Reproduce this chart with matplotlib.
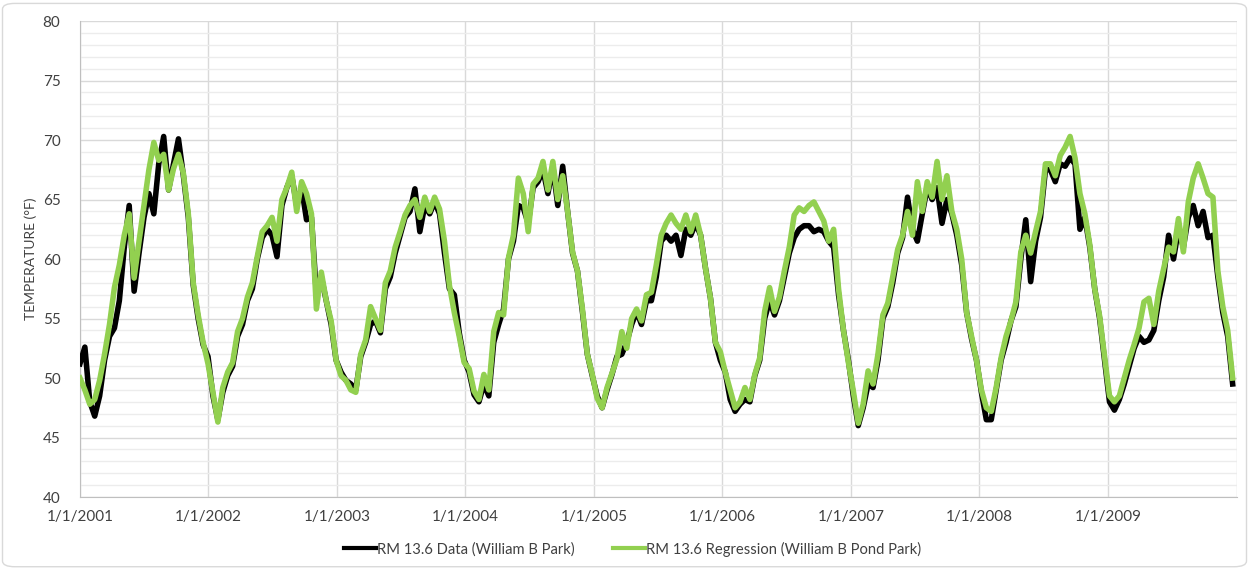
import matplotlib
matplotlib.use("Agg")
import matplotlib.pyplot as plt
from matplotlib.patches import FancyBboxPatch
from matplotlib.ticker import MultipleLocator
import pandas as pd

# --- Data (one value every 14 days from 1/1/2001) ---
START_DATE = "2001-01-01"
STEP = "14D"

data_temp = [
    # 2001
    51.2, 52.6, 48.0, 46.8, 48.5, 51.5, 53.5, 54.2, 56.5, 61.0, 64.5, 57.3, 60.5, 63.5,
    65.5, 63.8, 68.0, 70.3, 65.8, 68.0, 70.1, 67.0, 63.5, 57.8, 55.0, 52.8, 51.8,
    # 2002
    48.5, 46.5, 48.8, 50.2, 51.0, 53.5, 54.5, 56.5, 57.5, 60.0, 61.8, 62.5, 62.0,
    60.2, 64.5, 66.0, 67.0, 64.5, 66.0, 63.3, 63.5, 57.0, 58.5, 56.5, 54.5, 51.5,
    # 2003
    50.5, 49.8, 49.5, 49.0, 51.8, 53.0, 54.5, 54.8, 53.8, 57.5, 58.5, 60.5, 62.0,
    63.5, 64.0, 65.9, 62.3, 64.5, 63.8, 64.8, 63.8, 60.5, 57.5, 57.0, 53.8, 51.5,
    # 2004
    50.5, 48.6, 48.0, 49.5, 48.5, 53.0, 54.5, 55.8, 60.0, 61.5, 64.5, 64.3, 63.0,
    66.0, 66.5, 67.5, 65.5, 67.8, 64.5, 67.8, 64.0, 60.5, 59.0, 55.6, 52.0, 50.2,
    # 2005
    48.5, 47.5, 49.0, 50.3, 51.8, 52.0, 53.0, 54.5, 55.6, 54.5, 56.5, 56.5, 58.5,
    61.5, 62.0, 61.5, 62.0, 60.3, 62.5, 62.0, 63.0, 62.0, 59.2, 56.7, 53.0, 51.5,
    # 2006
    50.5, 48.2, 47.2, 47.8, 48.2, 48.0, 50.2, 51.5, 55.0, 56.5, 55.3, 56.5, 58.5,
    60.5, 61.8, 62.5, 62.8, 62.8, 62.3, 62.5, 62.3, 61.5, 61.0, 57.0, 54.0, 51.5,
    # 2007
    48.5, 46.0, 47.5, 49.5, 49.2, 51.5, 55.0, 56.0, 58.0, 60.5, 61.8, 65.2, 62.5,
    61.5, 63.8, 66.0, 65.0, 66.0, 63.0, 65.0, 63.8, 62.0, 59.5, 55.5, 53.3, 51.5,
    # 2008
    48.8, 46.5, 46.5, 49.0, 51.5, 53.0, 54.8, 56.0, 60.0, 63.3, 58.1, 61.5, 63.5,
    67.5, 67.5, 66.5, 68.0, 67.8, 68.5, 68.0, 62.5, 63.5, 61.0, 57.5, 55.0, 51.5,
    # 2009
    48.0, 47.3, 48.2, 49.5, 51.0, 52.5, 53.5, 53.0, 53.2, 54.0, 56.5, 58.5, 62.0,
    60.0, 62.5, 61.0, 63.5, 64.5, 62.8, 64.0, 61.8, 62.0, 58.5, 55.5, 53.5, 49.5,
]

regression_temp = [
    # 2001
    50.0, 49.0, 47.8, 48.2, 49.8, 52.0, 54.5, 57.6, 59.5, 62.0, 63.8, 58.4, 61.5, 64.5,
    67.5, 69.8, 68.3, 68.8, 65.8, 67.6, 68.8, 67.2, 63.8, 58.0, 55.3, 53.0, 51.2,
    # 2002
    48.8, 46.3, 49.2, 50.5, 51.3, 53.9, 55.0, 56.8, 58.0, 60.2, 62.3, 62.8, 63.5,
    61.5, 65.0, 66.0, 67.3, 64.0, 66.5, 65.5, 63.8, 55.8, 58.9, 56.5, 54.8, 51.5,
    # 2003
    50.2, 49.8, 49.0, 48.8, 52.0, 53.2, 56.0, 55.0, 54.0, 58.0, 59.0, 61.0, 62.3,
    63.7, 64.5, 65.0, 63.5, 65.2, 64.0, 65.2, 64.2, 61.5, 57.8, 55.5, 53.5, 51.3,
    # 2004
    50.8, 48.9, 48.2, 50.3, 49.0, 53.9, 55.5, 55.3, 60.1, 62.0, 66.8, 65.5, 62.3,
    66.3, 66.8, 68.2, 65.8, 68.2, 65.0, 67.0, 64.0, 60.6, 59.0, 55.8, 52.0, 50.3,
    # 2005
    48.3, 47.5, 49.2, 50.4, 51.6, 53.9, 52.5, 55.0, 55.8, 54.8, 57.0, 57.2, 59.5,
    62.0, 63.0, 63.7, 63.0, 62.5, 63.7, 62.3, 63.7, 62.0, 59.2, 56.7, 53.0, 52.2,
    # 2006
    50.5, 49.0, 47.5, 48.0, 49.2, 48.2, 50.3, 51.7, 55.6, 57.6, 55.6, 56.8, 59.0,
    61.0, 63.7, 64.3, 64.0, 64.5, 64.8, 64.0, 63.2, 61.5, 62.5, 57.5, 54.0, 51.3,
    # 2007
    48.9, 46.2, 47.8, 50.6, 49.5, 52.0, 55.3, 56.3, 58.5, 60.8, 62.0, 64.0, 62.0,
    66.5, 64.0, 66.5, 65.2, 68.2, 65.0, 67.0, 64.0, 62.5, 60.0, 55.5, 53.5, 51.5,
    # 2008
    49.0, 47.5, 47.2, 49.2, 51.7, 53.5, 54.8, 56.4, 60.6, 62.0, 60.5, 62.3, 64.0,
    68.0, 68.0, 67.0, 68.7, 69.4, 70.3, 68.5, 65.5, 63.8, 61.2, 57.5, 55.2, 51.8,
    # 2009
    48.5, 48.0, 48.5, 50.0, 51.5, 52.8, 54.2, 56.4, 56.7, 54.5, 57.3, 59.2, 61.0,
    60.6, 63.4, 60.6, 64.8, 66.8, 68.0, 66.8, 65.5, 65.2, 59.0, 56.0, 54.0, 50.0,
]

series_labels = ["RM 13.6 Data (William B Park)",
                 "RM 13.6 Regression (William B Pond Park)"]
series_colors = ["#000000", "#92D050"]

year_ticks = pd.date_range("2001-01-01", "2010-01-01", freq="YS")

dates = pd.date_range(START_DATE, periods=len(data_temp), freq=STEP)

# --- Plot ---
plt.rcParams["font.family"] = ["Lato", "DejaVu Sans"]

fig = plt.figure(figsize=(12.49, 5.69), dpi=100)
ax = fig.add_axes([0.064, 0.1265, 0.926, 0.8365])

ax.plot(dates, data_temp, color=series_colors[0], lw=4.0,
        solid_joinstyle="round", label=series_labels[0], zorder=3)
ax.plot(dates, regression_temp, color=series_colors[1], lw=4.0,
        solid_joinstyle="round", label=series_labels[1], zorder=4)

ax.set_ylim(40, 80)
ax.set_xlim(year_ticks[0], year_ticks[-1])
ax.yaxis.set_major_locator(MultipleLocator(5))
ax.yaxis.set_minor_locator(MultipleLocator(1))
ax.set_xticks(year_ticks)
ax.set_xticklabels([f"{d.month}/{d.day}/{d.year}" for d in year_ticks[:-1]] + [""])

ax.grid(which="major", axis="both", color="#d9d9d9", lw=1.0, zorder=0)
ax.grid(which="minor", axis="y", color="#ececec", lw=1.0, zorder=0)
ax.set_axisbelow(True)

for side in ["top", "right"]:
    ax.spines[side].set_visible(False)
for side in ["left", "bottom"]:
    ax.spines[side].set_color("#bfbfbf")
ax.tick_params(which="both", length=0, labelsize=11, colors="#404040")
ax.tick_params(axis="x", pad=9)
ax.tick_params(axis="y", pad=14)

ax.set_ylabel("TEMPERATURE (°F)", fontsize=10, color="#404040")
ax.yaxis.set_label_coords(-0.037, 0.5)

leg = fig.legend(loc="center", bbox_to_anchor=(0.5064, 0.035), ncol=2,
                 frameon=False, fontsize=10.6, handlelength=2.2,
                 handletextpad=0.05, columnspacing=2.6)
for t in leg.get_texts():
    t.set_color("#404040")
for h in leg.legend_handles:
    h.set_linewidth(3.0)

# light rounded border around the chart area
border = FancyBboxPatch((0.002, 0.004), 0.996, 0.99, boxstyle="round,pad=0,rounding_size=0.01",
                        transform=fig.transFigure, fill=False, edgecolor="#d9d9d9", lw=1.0)
fig.patches.append(border)

fig.savefig("out.png", dpi=100)
